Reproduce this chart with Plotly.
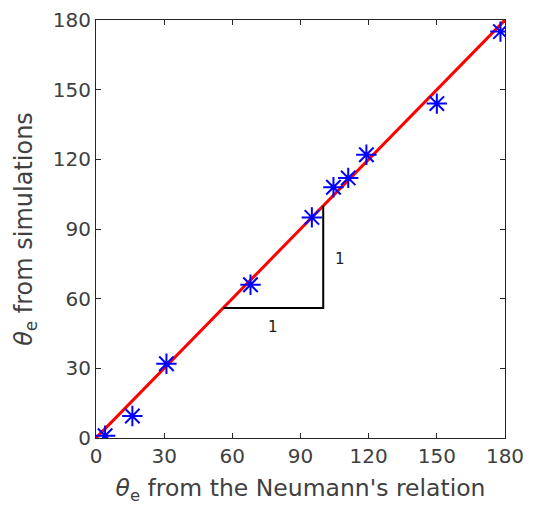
import plotly.graph_objects as go

neumann = [4, 16, 31, 68, 95, 104.5, 111, 119, 150, 178]
simulated = [1, 9.5, 32, 66, 95, 108, 112, 122, 144, 175]
fit_x = [0, 180]
fit_y = [0, 180]
tri_x = [56, 100, 100]
tri_y = [56, 56, 100]
tick_vals = [0, 30, 60, 90, 120, 150, 180]

fig = go.Figure()
fig.add_trace(go.Scatter(x=fit_x, y=fit_y, mode="lines",
                         line=dict(color="#ff0000", width=3), showlegend=False))
fig.add_trace(go.Scatter(x=tri_x, y=tri_y, mode="lines",
                         line=dict(color="black", width=2), showlegend=False))
fig.add_trace(go.Scatter(x=neumann, y=simulated, mode="markers",
                         marker=dict(symbol="asterisk-open", size=17, color="#0000ff",
                                     line=dict(color="#0000ff", width=2)),
                         showlegend=False))
fig.add_annotation(x=78, y=48, text="1", showarrow=False,
                   font=dict(size=15, color="#202020", family="DejaVu Sans"))
fig.add_annotation(x=107.5, y=77, text="1", showarrow=False,
                   font=dict(size=15, color="#202020", family="DejaVu Sans"))

axis_common = dict(range=[0, 180], tickvals=tick_vals, ticks="inside", ticklen=5,
                   tickcolor="#262626", showline=True, linecolor="#262626",
                   linewidth=1, mirror="ticks", showgrid=False, zeroline=False,
                   automargin=False, ticklabeloverflow="allow",
                   tickfont=dict(size=20, color="#404040", family="DejaVu Sans"))
fig.update_xaxes(**axis_common,
                 title=dict(text="<i>θ</i><sub>e</sub> from the Neumann's relation",
                            font=dict(size=23.5, color="#404040", family="DejaVu Sans"),
                            standoff=12))
fig.update_yaxes(**axis_common,
                 title=dict(text="<i>θ</i><sub>e</sub> from simulations",
                            font=dict(size=24, color="#404040", family="DejaVu Sans"),
                            standoff=13))
fig.update_layout(width=540, height=508, margin=dict(l=88, r=43, t=12, b=78),
                  plot_bgcolor="white", paper_bgcolor="white")
fig.write_html("out.html")
